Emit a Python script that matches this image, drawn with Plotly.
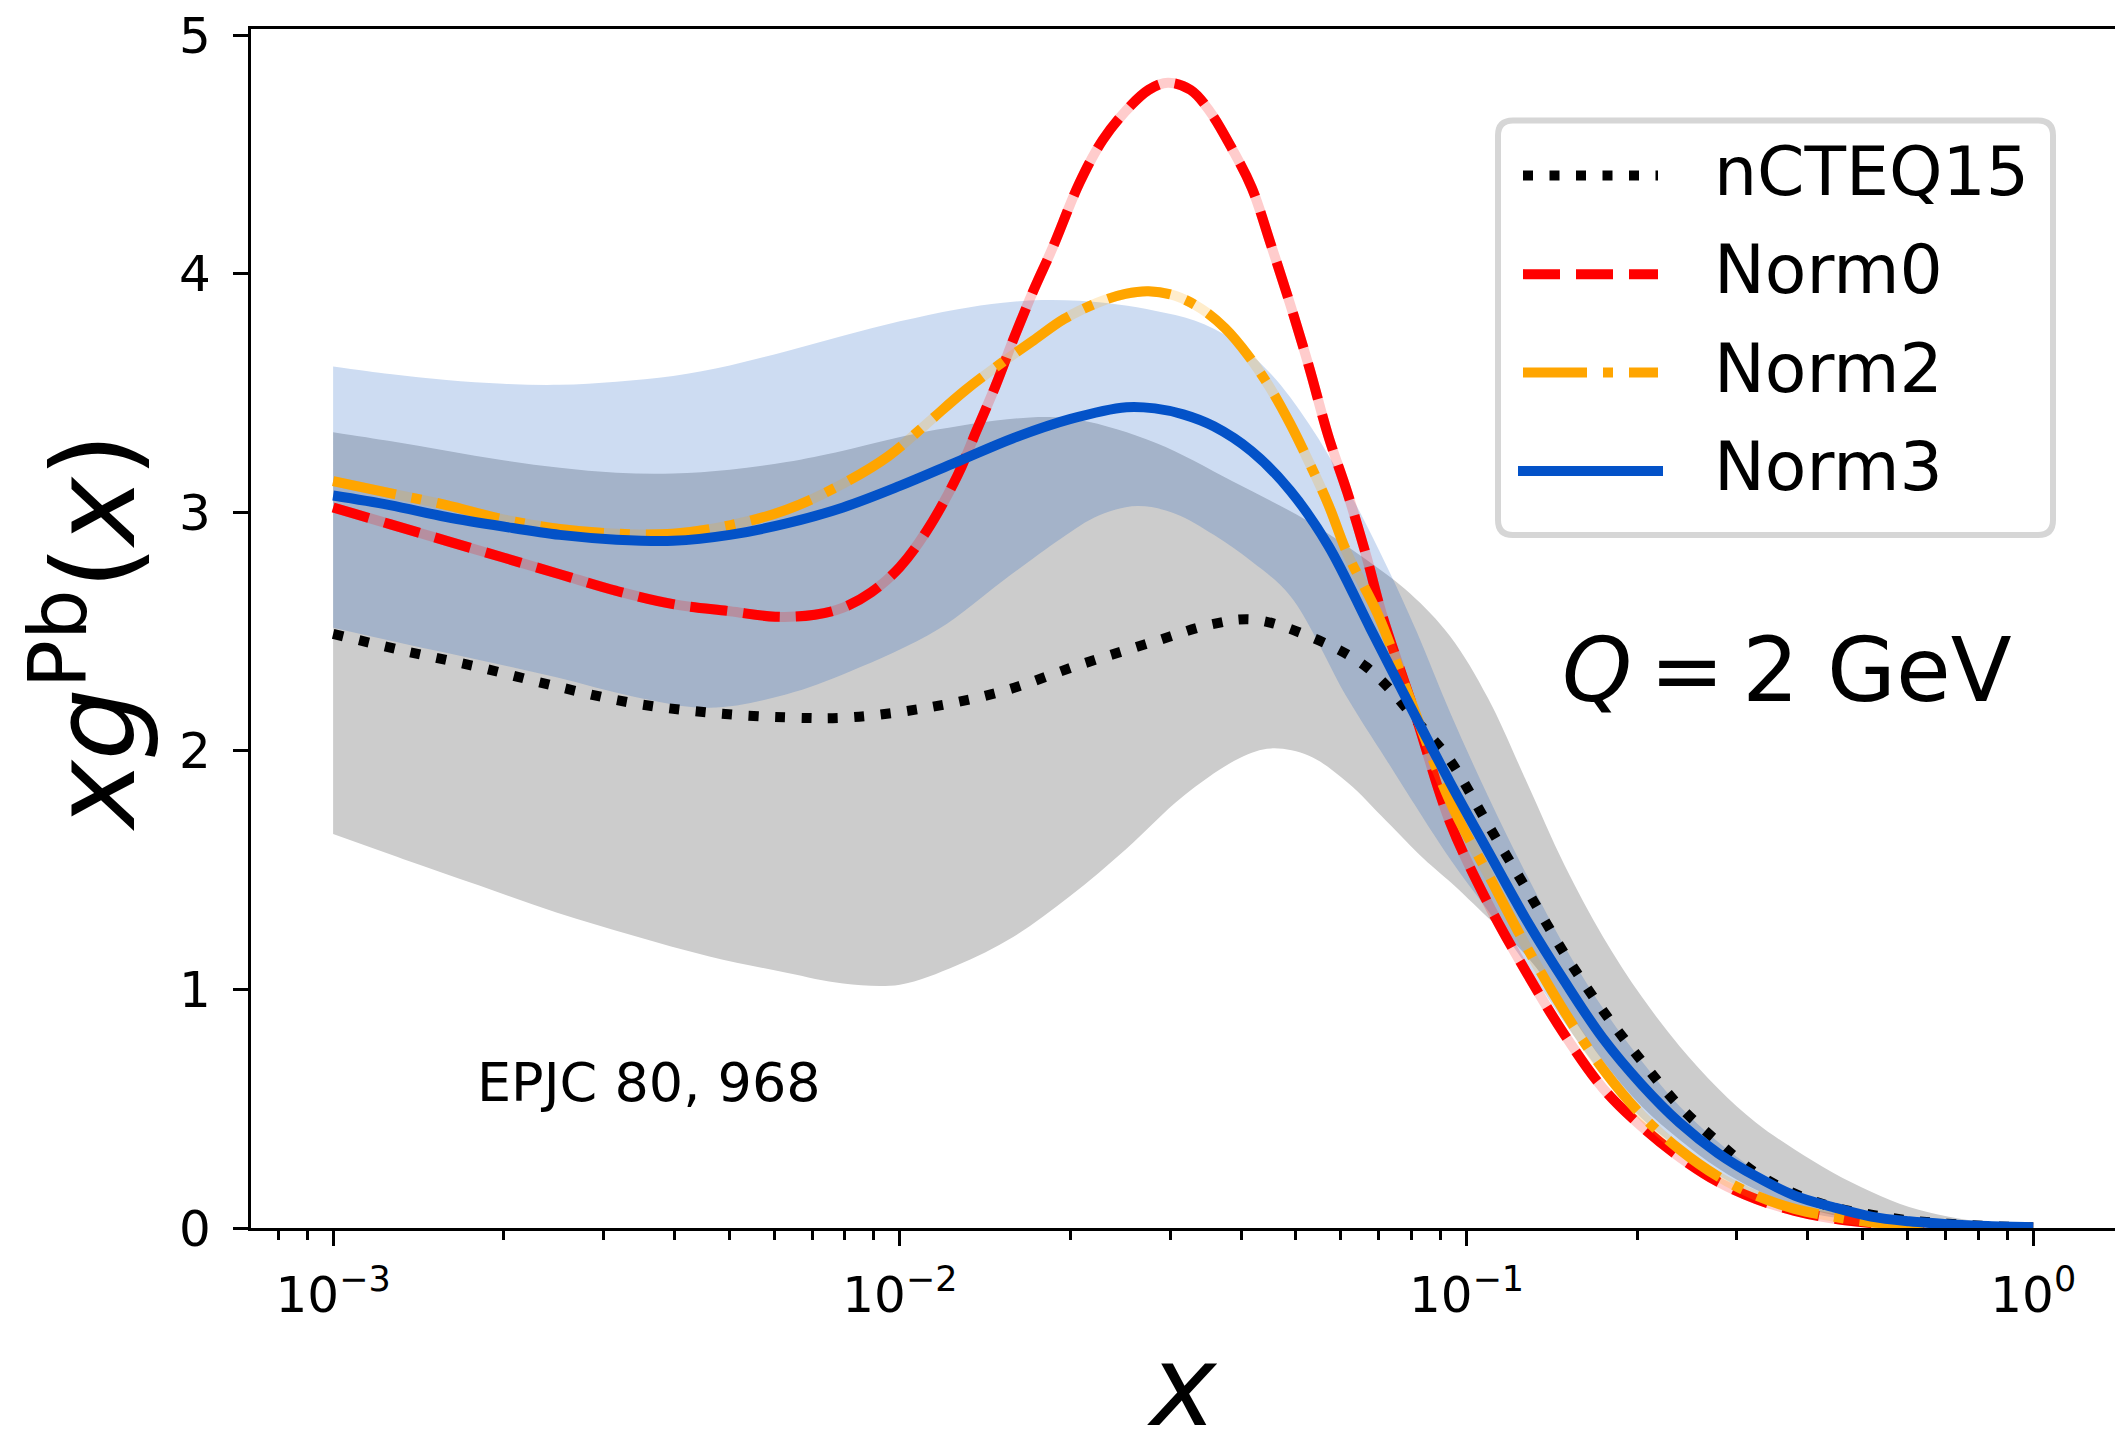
import plotly.graph_objects as go

# ---------------- data (x given as log10(x)) ----------------
# nCTEQ15 central (black dotted)
lx_ncteq = [-3.0, -2.877, -2.742, -2.606, -2.471, -2.336, -2.201, -2.088, -1.953, -1.818, -1.683,
            -1.548, -1.45, -1.376, -1.278, -1.176, -1.075, -1.029, -0.962, -0.894, -0.827, -0.759,
            -0.691, -0.624, -0.556, -0.489, -0.421, -0.354, -0.286, -0.219, -0.15, -0.08, 0.0]
y_ncteq = [2.49, 2.42, 2.35, 2.27, 2.20, 2.16, 2.14, 2.14, 2.18, 2.25, 2.36,
           2.46, 2.53, 2.55, 2.48, 2.35, 2.09, 1.96, 1.69, 1.42, 1.15, 0.91,
           0.70, 0.51, 0.36, 0.23, 0.144, 0.088, 0.056, 0.032, 0.018, 0.008, 0.003]

# Norm0 (red dashed)
lx_norm0 = [-3.0, -2.9, -2.8, -2.7, -2.6, -2.5, -2.4, -2.3, -2.22, -2.15, -2.1, -2.05, -2.0, -1.953,
            -1.899, -1.865, -1.831, -1.797, -1.764, -1.73, -1.683, -1.642, -1.602, -1.561, -1.527,
            -1.487, -1.453, -1.413, -1.379, -1.345, -1.311, -1.278, -1.244, -1.21, -1.176, -1.149,
            -1.09, -1.029, -0.962, -0.894, -0.827, -0.759, -0.691, -0.624, -0.556, -0.489, -0.421,
            -0.354, -0.286, -0.2, -0.1, 0.0]
y_norm0 = [3.02, 2.95, 2.88, 2.81, 2.74, 2.67, 2.615, 2.585, 2.562, 2.57, 2.60, 2.665, 2.77, 2.92,
           3.15, 3.34, 3.53, 3.74, 3.93, 4.11, 4.38, 4.56, 4.68, 4.77, 4.80,
           4.77, 4.68, 4.52, 4.36, 4.12, 3.87, 3.61, 3.32, 3.08, 2.81, 2.57,
           2.15, 1.70, 1.36, 1.07, 0.81, 0.585, 0.425, 0.297, 0.193, 0.121, 0.072,
           0.040, 0.021, 0.010, 0.004, 0.001]

# Norm2 (orange dash-dot)
lx_norm2 = [-3.0, -2.9, -2.8, -2.7, -2.6, -2.5, -2.4, -2.3, -2.2, -2.1, -2.02, -1.953, -1.885,
            -1.818, -1.764, -1.71, -1.649, -1.602, -1.561, -1.514, -1.467, -1.426, -1.386, -1.345,
            -1.311, -1.278, -1.244, -1.21, -1.156, -1.1, -1.029, -0.962, -0.894, -0.827, -0.759,
            -0.691, -0.624, -0.556, -0.489, -0.421, -0.354, -0.286, -0.2, -0.1, 0.0]
y_norm2 = [3.13, 3.08, 3.03, 2.97, 2.93, 2.91, 2.91, 2.945, 3.01, 3.12, 3.235, 3.37, 3.51,
           3.63, 3.72, 3.81, 3.88, 3.915, 3.926, 3.907, 3.851, 3.771, 3.659, 3.515,
           3.37, 3.21, 3.033, 2.825, 2.569, 2.22, 1.787, 1.483, 1.178, 0.906, 0.665,
           0.473, 0.329, 0.216, 0.136, 0.080, 0.048, 0.024, 0.012, 0.005, 0.002]

# Norm3 (blue solid)
lx_norm3 = [-3.0, -2.9, -2.8, -2.7, -2.6, -2.5, -2.4, -2.3, -2.2, -2.1, -2.0, -1.9, -1.8,
            -1.7, -1.6, -1.55, -1.5, -1.446, -1.379, -1.311, -1.244, -1.169,
            -1.1, -1.029, -0.962, -0.894, -0.827, -0.759, -0.691, -0.624, -0.556, -0.489, -0.421,
            -0.354, -0.286, -0.219, -0.151, -0.08, 0.0]
y_norm3 = [3.07, 3.03, 2.98, 2.94, 2.905, 2.885, 2.88, 2.905, 2.953, 3.02, 3.11, 3.21, 3.31,
           3.39, 3.44, 3.435, 3.41, 3.36, 3.255, 3.09, 2.86, 2.51,
           2.19, 1.867, 1.579, 1.29, 1.034, 0.794, 0.601, 0.441, 0.313, 0.216, 0.136,
           0.088, 0.048, 0.028, 0.016, 0.008, 0.003]

# nCTEQ15 uncertainty band (grey)
lx_ncteq_up = [-3.0, -2.9, -2.8, -2.7, -2.6, -2.5, -2.4, -2.3, -2.2, -2.1, -1.953, -1.77, -1.683,
               -1.548, -1.413, -1.278, -1.176, -1.1, -1.029, -0.962, -0.894, -0.827, -0.759,
               -0.691, -0.624, -0.556, -0.489, -0.421, -0.354, -0.286, -0.219, -0.151, -0.084, 0.0]
y_ncteq_up = [3.335, 3.298, 3.258, 3.218, 3.186, 3.165, 3.162, 3.178, 3.21, 3.258, 3.338, 3.397, 3.386,
              3.29, 3.13, 2.96, 2.80, 2.66, 2.48, 2.22, 1.87, 1.52, 1.22,
              0.97, 0.762, 0.585, 0.441, 0.329, 0.233, 0.152, 0.088, 0.048, 0.024, 0.008]
lx_ncteq_lo = [-3.0, -2.877, -2.742, -2.606, -2.471, -2.336, -2.2, -2.1, -2.0, -1.9, -1.8,
               -1.7, -1.6, -1.5, -1.4, -1.345, -1.278, -1.21, -1.142, -1.075, -1.029, -0.962, -0.894,
               -0.827, -0.759, -0.691, -0.624, -0.556, -0.489, -0.421, -0.354, -0.286, -0.2, -0.1, 0.0]
y_ncteq_lo = [1.651, 1.547, 1.435, 1.322, 1.226, 1.138, 1.07, 1.025, 1.02, 1.10, 1.22,
              1.39, 1.59, 1.81, 1.97, 2.01, 1.979, 1.867, 1.707, 1.547, 1.451, 1.30, 1.14,
              0.93, 0.70, 0.51, 0.37, 0.25, 0.16, 0.095, 0.055, 0.03, 0.015, 0.006, 0.002]

# Norm3 uncertainty band (light blue)
lx_norm3_up = [-3.0, -2.9, -2.8, -2.7, -2.6, -2.5, -2.4, -2.3, -2.2, -2.1, -2.0, -1.9, -1.818, -1.75,
               -1.683, -1.615, -1.548, -1.48, -1.413, -1.345, -1.278, -1.21, -1.142, -1.088, -1.029,
               -0.962, -0.894, -0.827, -0.759, -0.691, -0.624, -0.556, -0.489, -0.421, -0.354,
               -0.286, -0.2, -0.1, 0.0]
y_norm3_up = [3.611, 3.579, 3.554, 3.538, 3.534, 3.547, 3.571, 3.615, 3.675, 3.74, 3.80, 3.85, 3.878, 3.889,
              3.886, 3.870, 3.843, 3.803, 3.723, 3.579, 3.37, 3.098, 2.78, 2.50, 2.16,
              1.81, 1.48, 1.18, 0.92, 0.70, 0.51, 0.36, 0.24, 0.15, 0.09,
              0.05, 0.025, 0.01, 0.003]
lx_norm3_lo = [-3.0, -2.877, -2.74, -2.606, -2.471, -2.336, -2.201, -2.088, -1.933, -1.818, -1.716,
               -1.649, -1.581, -1.514, -1.446, -1.379, -1.311, -1.21, -1.142, -1.029, -0.962, -0.894,
               -0.827, -0.759, -0.691, -0.624, -0.556, -0.489, -0.421, -0.354, -0.286, -0.2, -0.1, 0.0]
y_norm3_lo = [2.516, 2.45, 2.380, 2.308, 2.228, 2.180, 2.236, 2.332, 2.508, 2.713, 2.889,
              2.986, 3.026, 2.994, 2.905, 2.793, 2.649, 2.22, 1.964, 1.547, 1.33, 1.10,
              0.86, 0.64, 0.46, 0.33, 0.22, 0.14, 0.08, 0.045, 0.025, 0.012, 0.005, 0.001]

legend_names = ["nCTEQ15", "Norm0", "Norm2", "Norm3"]
tick_vals = [1e-3, 1e-2, 1e-1, 1.0]
tick_text = ["10<sup>\u22123</sup>", "10<sup>\u22122</sup>", "10<sup>\u22121</sup>", "10<sup>0</sup>"]
ytick_vals = [0, 1, 2, 3, 4, 5]

# ---------------- styles ----------------
FONT = "DejaVu Sans"
C_BLACK, C_RED, C_ORANGE, C_BLUE = "#000000", "#ff0000", "#ffa500", "#0352c8"
DASH = {"dot": "10px,16.5px", "dash": "37px,16px", "dashdot": "64px,16px,10px,16px", "solid": "solid"}
LW = 10
TICKFONT = 50

W, H = 2115, 1432
ML, MR, MT, MB = 251, 0, 29, 204
PW, PH = W - ML - MR, H - MT - MB


def xs(lx):
    return [10 ** v for v in lx]


def px(X):
    return (X - ML) / PW


def py(Y):
    return (H - MB - Y) / PH


fig = go.Figure()


def band(lx_lo, y_lo, lx_up, y_up, color):
    fig.add_trace(go.Scatter(x=xs(lx_lo), y=y_lo, mode="lines",
                             line=dict(width=0, shape="spline", color=color),
                             showlegend=False, hoverinfo="skip"))
    fig.add_trace(go.Scatter(x=xs(lx_up), y=y_up, mode="lines",
                             line=dict(width=0, shape="spline", color=color),
                             fill="tonexty", fillcolor=color,
                             showlegend=False, hoverinfo="skip"))


band(lx_ncteq_lo, y_ncteq_lo, lx_ncteq_up, y_ncteq_up, "#cccccc")
band(lx_norm3_lo, y_norm3_lo, lx_norm3_up, y_norm3_up, "rgba(5,80,190,0.2)")


def curve(lx, y, color, dash, under=None):
    if under:
        fig.add_trace(go.Scatter(x=xs(lx), y=y, mode="lines",
                                 line=dict(width=LW, color=under, shape="spline"),
                                 showlegend=False, hoverinfo="skip"))
    fig.add_trace(go.Scatter(x=xs(lx), y=y, mode="lines",
                             line=dict(width=LW, color=color, dash=DASH[dash], shape="spline"),
                             showlegend=False))


curve(lx_ncteq, y_ncteq, C_BLACK, "dot")
curve(lx_norm0, y_norm0, C_RED, "dash", under="rgba(255,0,0,0.2)")
curve(lx_norm2, y_norm2, C_ORANGE, "dashdot", under="rgba(255,165,0,0.2)")
curve(lx_norm3, y_norm3, C_BLUE, "solid")

# minor tick positions on the log axis
minor_vals = [k * 10.0 ** n for n in range(-4, 1) for k in range(2, 10)]
minor_vals = [v for v in minor_vals if 10 ** -3.1449 <= v <= 10 ** 0.1443]

fig.update_layout(
    width=W, height=H,
    margin=dict(l=ML, r=MR, t=MT, b=MB, pad=0),
    paper_bgcolor="white", plot_bgcolor="white",
    font=dict(family=FONT, color="black"),
    showlegend=False,
    xaxis=dict(type="log", range=[-3.1449, 0.1443], showline=True, linecolor="black",
               linewidth=3.3, mirror=True, ticks="outside", ticklen=15, tickwidth=3.3,
               tickcolor="black", tickmode="array", tickvals=tick_vals, ticktext=tick_text,
               tickfont=dict(size=TICKFONT, family=FONT, color="black"), showgrid=False,
               zeroline=False, ticklabelstandoff=6,
               minor=dict(tickmode="array", tickvals=minor_vals, ticks="outside", ticklen=8.5,
                          tickwidth=2.5, tickcolor="black", showgrid=False)),
    yaxis=dict(range=[0, PH / 238.6], showline=True, linecolor="black", linewidth=3.3,
               mirror=False, ticks="outside", ticklen=15, tickwidth=3.3, tickcolor="black",
               tickmode="array", tickvals=ytick_vals,
               tickfont=dict(size=TICKFONT, family=FONT, color="black"), showgrid=False,
               zeroline=False, ticklabelstandoff=12),
)

ann = []
# axis titles
ann.append(dict(text="<i>xg</i><sup>Pb</sup>(<i>x</i>)", x=px(86), y=py(632), xref="paper",
                yref="paper", textangle=-90, showarrow=False, xanchor="center",
                yanchor="middle", font=dict(size=114, family=FONT, color="black")))
ann.append(dict(text="<i>x</i>", x=px(1182), y=py(1386), xref="paper", yref="paper",
                showarrow=False, xanchor="center", yanchor="middle",
                font=dict(size=112, family=FONT, color="black")))
# in-plot texts
ann.append(dict(text="EPJC 80, 968", x=px(649), y=py(1082), xref="paper", yref="paper",
                showarrow=False, xanchor="center", yanchor="middle",
                font=dict(size=54, family=FONT, color="black")))
ann.append(dict(text="<i>Q</i>\u2009=\u20092 GeV", x=px(1787), y=py(670), xref="paper", yref="paper",
                showarrow=False, xanchor="center", yanchor="middle",
                font=dict(size=89, family=FONT, color="black")))

# legend (drawn manually)
shapes = []
bx0, bx1, by0, by1, r = 1498, 2053, 120.5, 535, 15
path = (f"M{px(bx0 + r)},{py(by0)} L{px(bx1 - r)},{py(by0)} Q{px(bx1)},{py(by0)} {px(bx1)},{py(by0 + r)} "
        f"L{px(bx1)},{py(by1 - r)} Q{px(bx1)},{py(by1)} {px(bx1 - r)},{py(by1)} "
        f"L{px(bx0 + r)},{py(by1)} Q{px(bx0)},{py(by1)} {px(bx0)},{py(by1 - r)} "
        f"L{px(bx0)},{py(by0 + r)} Q{px(bx0)},{py(by0)} {px(bx0 + r)},{py(by0)} Z")
shapes.append(dict(type="path", path=path, xref="paper", yref="paper",
                   line=dict(color="#d6d6d6", width=6), fillcolor="white", layer="above"))

leg_styles = [(C_BLACK, "dot"), (C_RED, "dash"), (C_ORANGE, "dashdot"), (C_BLUE, "solid")]
line_y = [175.4, 274.2, 372.5, 470.9]
text_y = [171.6, 269.8, 368.0, 467.0]
for name, (col, d), ly, ty in zip(legend_names, leg_styles, line_y, text_y):
    x0, x1 = (1518, 1663) if d == "solid" else (1523, 1658)
    shapes.append(dict(type="line", xref="paper", yref="paper", x0=px(x0), x1=px(x1),
                       y0=py(ly), y1=py(ly), line=dict(color=col, width=LW, dash=DASH[d]),
                       layer="above"))
    ann.append(dict(text=name, x=px(1712), y=py(ty), xref="paper", yref="paper",
                    showarrow=False, xanchor="left", yanchor="middle",
                    font=dict(size=68, family=FONT, color="black")))

fig.update_layout(annotations=ann, shapes=shapes)

fig.write_html("out.html", config={"displayModeBar": False})
